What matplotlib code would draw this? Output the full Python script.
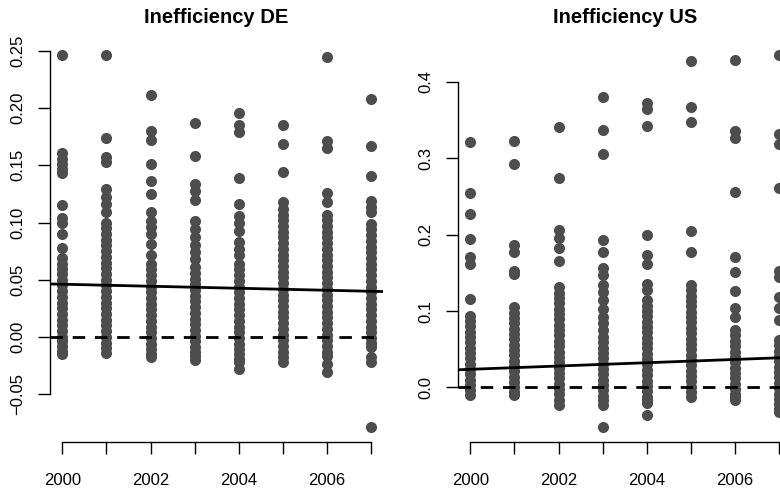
import numpy as np
import matplotlib
matplotlib.use("Agg")
import matplotlib.pyplot as plt

plt.rcParams['font.family'] = ['Liberation Sans', 'DejaVu Sans']

years = [2000, 2001, 2002, 2003, 2004, 2005, 2006, 2007]

# Inefficiency values per year, Germany
de_values = {
    2000: [0.247, 0.161, 0.156, 0.151, 0.147, 0.143, 0.115, 0.104, 0.100, 0.090, 0.078,
           0.069, 0.064, 0.059, 0.055, 0.050, 0.045, 0.040, 0.035, 0.030, 0.025, 0.020,
           0.015, 0.010, 0.005, 0.000, -0.004, -0.008, -0.012, -0.015],
    2001: [0.247, 0.174, 0.157, 0.153, 0.129, 0.122, 0.116, 0.109,
           0.100, 0.095, 0.090, 0.085, 0.080, 0.075, 0.070, 0.065, 0.060, 0.055, 0.050,
           0.045, 0.040, 0.035, 0.030, 0.025, 0.020, 0.015, 0.010, 0.005, 0.000,
           -0.005, -0.010, -0.014],
    2002: [0.212, 0.180, 0.172, 0.151, 0.136, 0.125, 0.109, 0.101, 0.096, 0.090, 0.081,
           0.072, 0.064, 0.059, 0.054, 0.049, 0.044, 0.039, 0.034, 0.029, 0.024, 0.019,
           0.014, 0.009, 0.004, -0.001, -0.006, -0.011, -0.015, -0.018],
    2003: [0.187, 0.158, 0.134, 0.128, 0.120, 0.101, 0.094, 0.087, 0.080, 0.074, 0.068,
           0.061, 0.056, 0.051, 0.046, 0.041, 0.036, 0.031, 0.026, 0.021, 0.016, 0.011,
           0.006, 0.001, -0.004, -0.009, -0.013, -0.017, -0.020],
    2004: [0.196, 0.185, 0.179, 0.139, 0.116, 0.106, 0.100, 0.093, 0.083, 0.077, 0.072,
           0.064, 0.059, 0.054, 0.049, 0.044, 0.039, 0.034, 0.029, 0.024, 0.019, 0.014,
           0.009, 0.004, -0.001, -0.006, -0.011, -0.015, -0.019, -0.022, -0.028],
    2005: [0.185, 0.169, 0.144, 0.118, 0.112,
           0.107, 0.102, 0.097, 0.092, 0.087, 0.082, 0.077, 0.072, 0.067, 0.062, 0.057,
           0.052, 0.047, 0.042, 0.037, 0.032, 0.027, 0.022, 0.017, 0.012, 0.007, 0.002,
           -0.003, -0.008, -0.013, -0.018, -0.022],
    2006: [0.245, 0.171, 0.165, 0.126, 0.118,
           0.107, 0.102, 0.097, 0.092, 0.087, 0.082, 0.077, 0.072, 0.067, 0.062, 0.057,
           0.052, 0.047, 0.042, 0.037, 0.032, 0.027, 0.022, 0.017, 0.012, 0.007, 0.002,
           -0.003, -0.008, -0.013, -0.017, -0.024, -0.031],
    2007: [0.208, 0.167, 0.141, 0.119, 0.114, 0.109,
           0.099, 0.094, 0.089, 0.084, 0.079, 0.074, 0.069, 0.064, 0.059, 0.054, 0.049,
           0.044, 0.039, 0.034, 0.029, 0.024, 0.019, 0.014, 0.009, 0.004, -0.001,
           -0.005, -0.009, -0.018, -0.022, -0.079],
}

# Inefficiency values per year, United States
us_values = {
    2000: [0.321, 0.255, 0.227, 0.194, 0.171, 0.162, 0.116,
           0.094, 0.087, 0.080, 0.073, 0.066, 0.059, 0.052, 0.045, 0.038, 0.031, 0.024,
           0.017, 0.010, 0.003, -0.004, -0.010],
    2001: [0.323, 0.292, 0.186, 0.177, 0.153, 0.149,
           0.105, 0.098, 0.091, 0.084, 0.077, 0.070, 0.063, 0.056, 0.049, 0.042, 0.035,
           0.028, 0.021, 0.014, 0.007, 0.000, -0.006, -0.010],
    2002: [0.341, 0.274, 0.206, 0.196, 0.182, 0.166,
           0.131, 0.124, 0.117, 0.110, 0.103, 0.096, 0.089, 0.082, 0.075, 0.068, 0.061,
           0.054, 0.047, 0.040, 0.033, 0.026, 0.019, 0.012, 0.005, -0.002, -0.009,
           -0.016, -0.023],
    2003: [0.380, 0.337, 0.306, 0.193, 0.177, 0.156, 0.147, 0.134, 0.125, 0.114, 0.103,
           0.092, 0.084, 0.075,
           0.066, 0.059, 0.052, 0.045, 0.038, 0.031, 0.024, 0.017, 0.010, 0.003, -0.004,
           -0.011, -0.017, -0.023, -0.052],
    2004: [0.373, 0.365, 0.342, 0.199, 0.173, 0.162, 0.136, 0.127,
           0.114, 0.107, 0.100, 0.093, 0.086, 0.079, 0.072, 0.065, 0.058, 0.051, 0.044,
           0.037, 0.030, 0.023, 0.016, 0.009, 0.002, -0.005, -0.012, -0.017, -0.021,
           -0.036],
    2005: [0.427, 0.367, 0.347, 0.205, 0.177,
           0.134, 0.127, 0.120, 0.113, 0.106, 0.099, 0.092, 0.085, 0.078, 0.071, 0.064,
           0.057, 0.050, 0.043, 0.036, 0.029, 0.022, 0.015, 0.008, 0.001, -0.006,
           -0.012],
    2006: [0.429, 0.336, 0.326, 0.256, 0.171, 0.151, 0.126, 0.104, 0.092,
           0.075, 0.068, 0.061, 0.054, 0.047, 0.040, 0.033, 0.026, 0.019, 0.012, 0.005,
           -0.002, -0.009, -0.013, -0.017],
    2007: [0.436, 0.332, 0.319, 0.261, 0.153, 0.145, 0.118, 0.104, 0.088,
           0.062, 0.055, 0.048, 0.041, 0.034, 0.027, 0.020, 0.013, 0.006, -0.001,
           -0.008, -0.015, -0.022, -0.028, -0.032],
}

# fitted trend: (value at 2000, slope per year)
de_fit = (0.0460, -0.00088)
us_fit = (0.0237, 0.00215)

de_yticks = [-0.05, 0.00, 0.05, 0.10, 0.15, 0.20, 0.25]
us_yticks = [0.0, 0.1, 0.2, 0.3, 0.4]

point_col = '#4D4D4D'

fig = plt.figure(figsize=(7.8, 4.95), dpi=100)
W, H = 780, 495
ax1 = fig.add_axes([50 / W, 53 / H, 333.3 / W, 402.4 / H])
ax2 = fig.add_axes([458 / W, 53 / H, 333.3 / W, 402.4 / H])


def r_range(lo, hi):
    pad = 0.04 * (hi - lo)
    return lo - pad, hi + pad


def panel(ax, values, fit, yticks, fmt, title):
    xs, ys = [], []
    for yr in years:
        xs += [yr] * len(values[yr])
        ys += values[yr]
    ax.scatter(xs, ys, s=64, color=point_col, linewidths=0, zorder=2)

    ax.set_xlim(*r_range(min(years), max(years)))
    ax.set_ylim(*r_range(min(ys), max(ys)))

    a, b = fit
    ax.axline((2000, a), slope=b, color='black', lw=2, zorder=3)
    ax.axhline(0, color='black', lw=2, dashes=(4.5, 3.5), zorder=3)

    for side in ['top', 'right']:
        ax.spines[side].set_visible(False)
    ax.spines['left'].set_bounds(yticks[0], yticks[-1])
    ax.spines['bottom'].set_bounds(years[0], years[-1])
    for side in ['left', 'bottom']:
        ax.spines[side].set_linewidth(1.0)

    ax.set_xticks(years)
    ax.set_xticklabels([str(y) if y % 2 == 0 else '' for y in years])
    ax.set_yticks(yticks)
    ax.set_yticklabels([fmt.format(v).replace('-', '\u2212') for v in yticks])
    ax.tick_params(axis='both', length=8.6, width=1.0, labelsize=12)
    ax.tick_params(axis='x', pad=14)
    ax.tick_params(axis='y', pad=9)
    for lbl in ax.get_yticklabels():
        lbl.set_rotation(90)
        lbl.set_va('center')

    ax.set_title(title, fontsize=14.5, fontweight='bold', pad=12)


panel(ax1, de_values, de_fit, de_yticks, '{:.2f}', 'Inefficiency DE')
panel(ax2, us_values, us_fit, us_yticks, '{:.1f}', 'Inefficiency US')

fig.savefig('out.png', dpi=100)
